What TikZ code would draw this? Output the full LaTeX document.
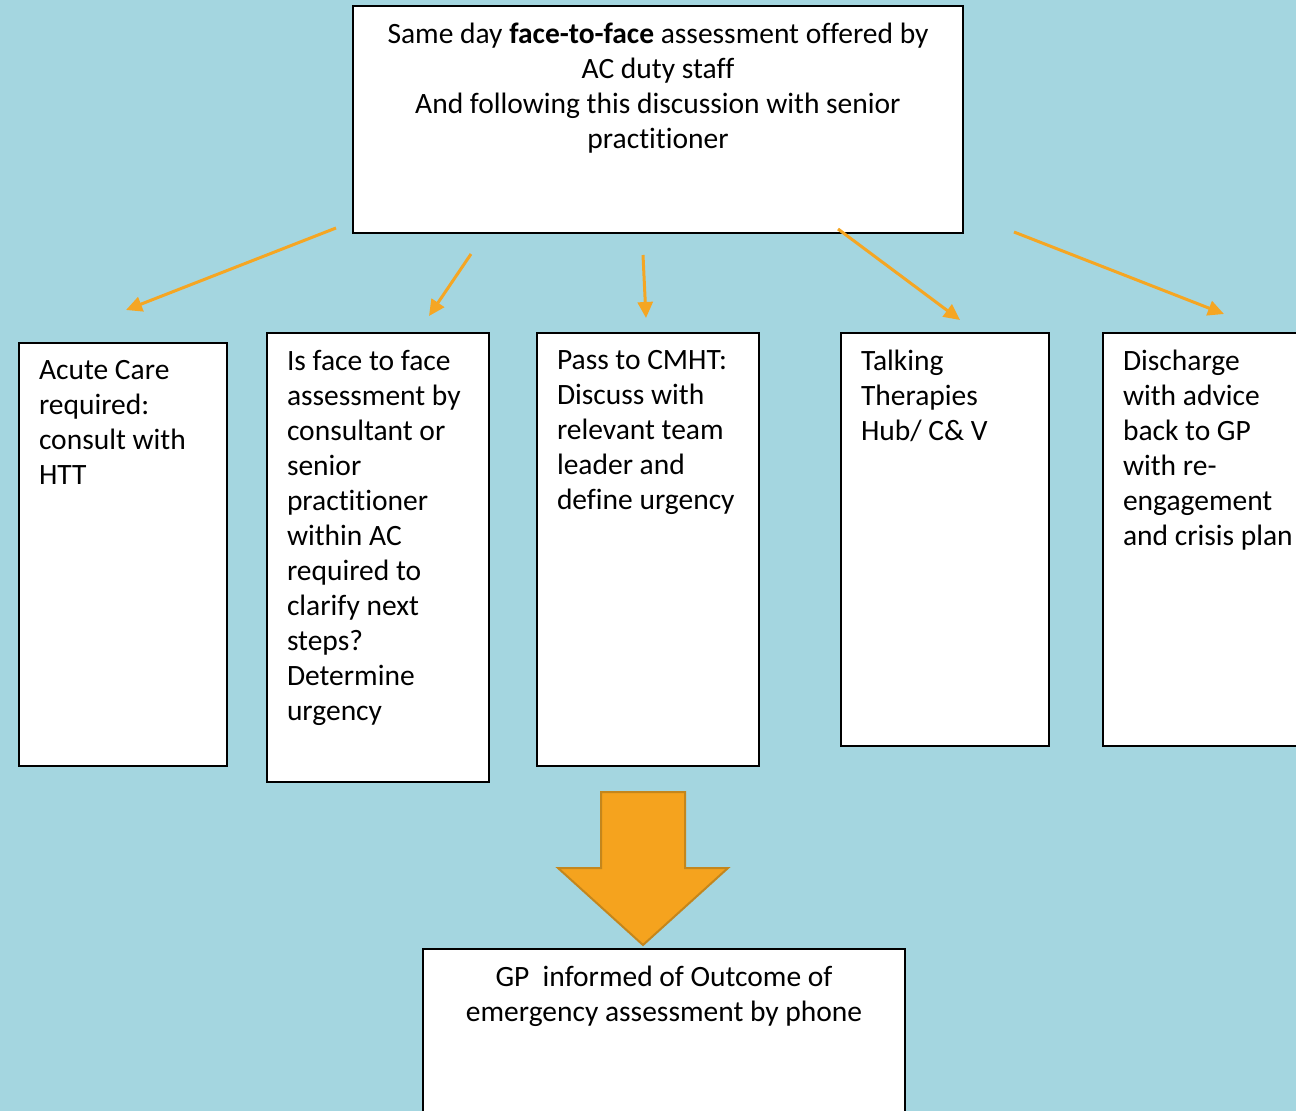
\documentclass[tikz,border=0pt]{standalone}
\usepackage{fontspec}
\setmainfont[Ligatures = NoCommon]{Carlito}
\usepackage{tikz}
\usetikzlibrary{arrows.meta,positioning}
\definecolor{bgblue}{RGB}{164,214,224}
\definecolor{linkor}{RGB}{245,166,35}
\definecolor{bigor}{RGB}{245,163,30}
\definecolor{bigedge}{RGB}{196,134,28}

\begin{document}
\begin{tikzpicture}[x = 1pt, y = -1pt,
  stepbox/.style = {draw = black, line width = 2pt, fill = white, anchor = north west, inner xsep = 20pt, inner ysep = 17pt, font = \fontsize{29.5}{35}\selectfont},
  link/.style = {draw = linkor, line width = 3pt, -{Triangle[length = 16pt, width = 15pt]}}]
\clip (0,0) rectangle (1296,1111);
\fill[bgblue] (0,0) rectangle (1296,1111);
\node[stepbox] (assess) at (352,5) {\parbox[t][193pt][t]{570pt}{\centering Same day \textbf{face-to-face} assessment offered by\\ AC duty staff\\ And following this discussion with senior\\ practitioner}};
\node[stepbox] (acute) at (18,342) {\parbox[t][389pt][t]{168pt}{\raggedright Acute Care\\ required:\\ consult with\\ HTT}};
\node[stepbox] (senior) at (266,332) {\parbox[t][415pt][t]{182pt}{\raggedright Is face to face\\ assessment by\\ consultant or\\ senior\\ practitioner\\ within AC\\ required to\\ clarify next\\ steps?\\ Determine\\ urgency}};
\node[stepbox] (cmht) at (536,332) {\parbox[t][399pt][t]{182pt}{\raggedright Pass to CMHT:\\ Discuss with\\ relevant team\\ leader and\\ define urgency}};
\node[stepbox] (talk) at (840,332) {\parbox[t][379pt][t]{168pt}{\raggedright Talking\\ Therapies\\ Hub/ C\& V}};
\node[stepbox] (discharge) at (1102,332) {\parbox[t][379pt][t]{180pt}{\raggedright Discharge\\ with advice\\ back to GP\\ with re-\\ engagement\\ and crisis plan}};
\node[stepbox] (gp) at (422,948) {\parbox[t][166pt][t]{442pt}{\centering GP~~informed of Outcome of\\ emergency assessment by phone}};
\coordinate (a1) at (336,228);
\coordinate (b1) at (126,310);
\coordinate (a2) at (471,254);
\coordinate (b2) at (429,316);
\coordinate (a3) at (643,255);
\coordinate (b3) at (646,318);
\coordinate (a4) at (838,229);
\coordinate (b4) at (960,320);
\coordinate (a5) at (1014,232);
\coordinate (b5) at (1224,314);
\draw[link] (a1) -- (b1);
\draw[link] (a2) -- (b2);
\draw[link] (a3) -- (b3);
\draw[link] (a4) -- (b4);
\draw[link] (a5) -- (b5);
\filldraw[fill = bigor, draw = bigedge, line width = 2pt] (601,792) -- (685,792) -- (685,868) -- (728,868) -- (643,945) -- (558,868) -- (601,868) -- cycle;
\end{tikzpicture}
\end{document}
